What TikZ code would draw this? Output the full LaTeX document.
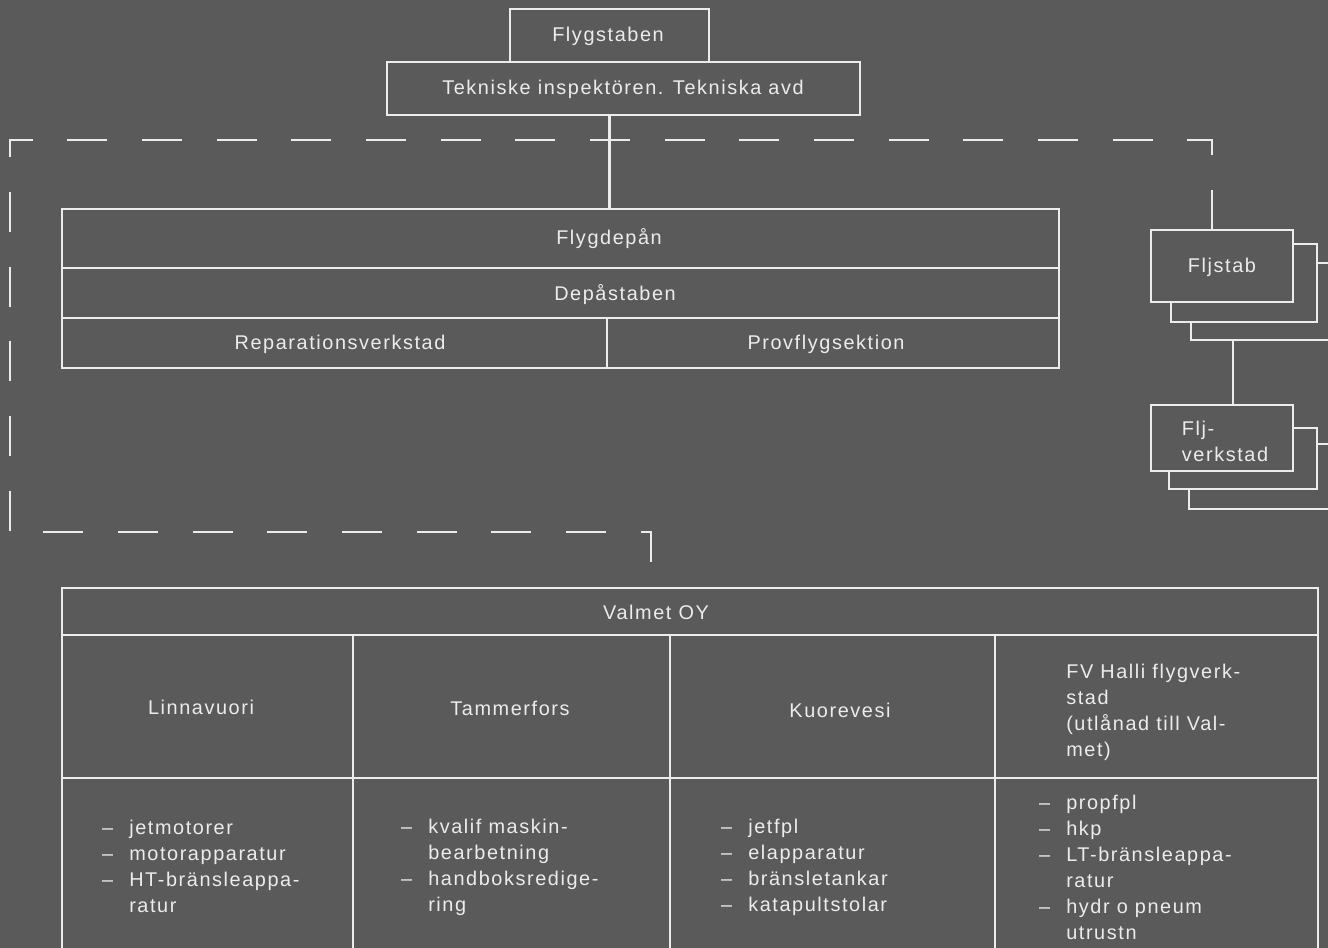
\documentclass[tikz,border=0pt]{standalone}
\usepackage{fontspec}
\setmainfont{Liberation Sans}
\newfontfamily\lblfont[LetterSpace=8]{Liberation Sans}
\usetikzlibrary{fit}
\definecolor{bg}{RGB}{90,90,90}
\definecolor{fg}{RGB}{236,236,236}
\newcommand\itm{\llap{–\hspace{12pt}}}
\begin{document}
\begin{tikzpicture}[x=0.75pt,y=-0.75pt,
  ln/.style={draw=fg, line width=1.6pt},
  bx/.style={ln, rectangle, inner sep=0pt, outer sep=0pt, fill=bg},
  lbl/.style={text=fg, font=\lblfont\fontsize{14.9pt}{19.5pt}\selectfont, inner sep=0pt, align=center, yshift=-1.2pt},
  lst/.style={lbl, align=left, anchor=west},
  dsh/.style={ln, dash pattern=on 30pt off 26pt}]
\useasboundingbox (0,0) rectangle (1328,948);
\fill[bg] (0,0) rectangle (1328,948);
\begin{scope}
\clip (0,0) rectangle (1328,948);
% top boxes
\node[bx, fit={(510,9)(709,62)}] (flyg) {};
\node[lbl] (flygt) at (608,35) {Flygstaben};
\node[bx, fit={(387,62)(860,115)}] (tek) {};
\node[lbl] (tekt) at (623,88) {Tekniske inspektören. Tekniska avd};
% depot block
\node[bx, fit={(62,209)(1059,268)}] (depan) {};
\node[bx, fit={(62,268)(1059,318)}] (depst) {};
\node[bx, fit={(62,318)(607,368)}] (rep) {};
\node[bx, fit={(607,318)(1059,368)}] (prov) {};
\node[lbl] (depant) at (609,237) {Flygdepån};
\node[lbl] (depstt) at (615,293) {Depåstaben};
\node[lbl] (rept) at (340,343) {Reparationsverkstad};
\node[lbl] (provt) at (826,343) {Provflygsektion};
\draw[ln] (flyg.center |- tek.south) -- (flyg.center |- depan.north);
% Fljstab stack
\node[bx, fit={(1191,263)(1345,340)}] (fs3) {};
\node[bx, fit={(1171,244)(1317,322)}] (fs2) {};
\node[bx, fit={(1151,230)(1293,302)}] (fs1) {};
\node[lbl] (fst) at (fs1.center) {Fljstab};
% Flj-verkstad stack
\node[bx, fit={(1189,444)(1345,509)}] (fv3) {};
\node[bx, fit={(1169,428)(1317,489)}] (fv2) {};
\node[bx, fit={(1151,405)(1293,471)}] (fv1) {};
\node[lbl, align=left] (fvt) at (1225,440) {Flj-\\verkstad};
\coordinate (cv) at (1233,0);
\draw[ln] (cv |- fs3.south) -- (cv |- fv1.north);
% Valmet table
\node[bx, fit={(62,588)(1318,635)}] (valmet) {};
\node[lbl] (valmett) at (656,611) {Valmet OY};
\node[bx, fit={(62,635)(353,778)}] (h1) {};
\node[bx, fit={(353,635)(670,778)}] (h2) {};
\node[bx, fit={(670,635)(995,778)}] (h3) {};
\node[bx, fit={(995,635)(1318,778)}] (h4) {};
\node[bx, fit={(62,778)(353,990)}] (b1) {};
\node[bx, fit={(353,778)(670,990)}] (b2) {};
\node[bx, fit={(670,778)(995,990)}] (b3) {};
\node[bx, fit={(995,778)(1318,990)}] (b4) {};
\node[lbl] (h1t) at (201,706) {Linnavuori};
\node[lbl] (h2t) at (510,707) {Tammerfors};
\node[lbl] (h3t) at (840,709) {Kuorevesi};
\node[lst] (h4t) at (1066,711) {FV Halli flygverk-\\stad\\(utlånad till Val-\\met)};
\node[lst] (b1t) at (129,865) {\itm jetmotorer\\\itm motorapparatur\\\itm HT-bränsleappa-\\ratur};
\node[lst] (b2t) at (428,866) {\itm kvalif maskin-\\bearbetning\\\itm handboksredige-\\ring};
\node[lst] (b3t) at (748,866) {\itm jetfpl\\\itm elapparatur\\\itm bränsletankar\\\itm katapultstolar};
\node[lst] (b4t) at (1066,866) {\itm propfpl\\\itm hkp\\\itm LT-bränsleappa-\\ratur\\\itm hydr o pneum\\utrustn};
% dashed frame
\coordinate (dTR) at (1212,140);
\coordinate (dTL) at (10,140);
\coordinate (dBL) at (10,532);
\coordinate (dBR) at (651,532);
\draw[dsh] (dTR |- fs1.north) -- (dTR) -- (dTL) -- (dBL) -- (dBR) -- (dBR |- valmet.north);
\end{scope}
\end{tikzpicture}
\end{document}
